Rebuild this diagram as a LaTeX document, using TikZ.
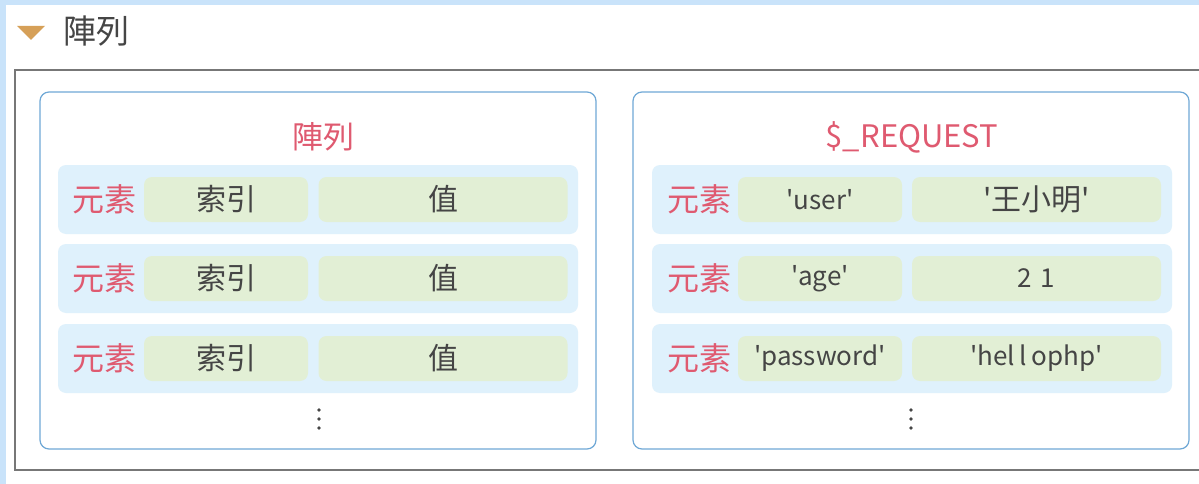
\documentclass[tikz,border=0pt]{standalone}
\usepackage{fontspec}
\setmainfont{Noto Sans CJK TC}
\definecolor{bgblue}{HTML}{C9E3FA}
\definecolor{rowc}{HTML}{DFF1FC}
\definecolor{cellc}{HTML}{E2EFD5}
\definecolor{boxc}{HTML}{6FA8D6}
\definecolor{redt}{HTML}{DF5A70}
\definecolor{darkt}{HTML}{454545}
\definecolor{tri}{HTML}{D6A058}
\definecolor{outerc}{HTML}{777777}
\newcommand\mysq{\textquotesingle}
\begin{document}
\begin{tikzpicture}[x=1pt,y=-1pt,
  rowbox/.style={fill=rowc,draw=none,rounded corners=8pt,minimum width=520pt,minimum height=69pt,inner sep=0pt},
  cellbox/.style={fill=cellc,draw=none,rounded corners=8pt,minimum height=45pt,inner sep=0pt,text=darkt,font=\fontsize{30}{30}\selectfont},
  latcell/.style={font=\fontsize{26}{26}\selectfont},
  idxbox/.style={cellbox,minimum width=164pt},
  valbox/.style={cellbox,minimum width=249pt},
  elemlabel/.style={text=redt,inner sep=0pt,font=\fontsize{32}{32}\selectfont},
  bigbox/.style={draw=boxc,line width=1.2pt,rounded corners=9pt,minimum width=556pt,minimum height=357pt,inner sep=0pt},
  boxtitle/.style={text=redt,inner sep=0pt,font=\fontsize{31}{31}\selectfont},
  dotc/.style={fill=darkt,draw=none,circle,inner sep=0pt,minimum size=3.6pt}]
\useasboundingbox (0,0) rectangle (1199,484);
\clip (0,0) rectangle (1199,484);
% background panel
\fill[bgblue] (0,0) rectangle (1199,484);
\fill[white] (6,5) rectangle (1199,484);
% heading
\fill[tri] (17,26) -- (45,26) -- (31,40) -- cycle;
\node[text=darkt,inner sep=0pt,font=\fontsize{33}{33}\selectfont] (head) at (96,31) {陣列};
% outer frame
\draw[outerc,line width=1.5pt] (15,70) rectangle (1215,470);
% left box
\node[bigbox] (L) at (318,270.5) {};
\node[boxtitle] (Lt) at (323,137) {陣列};
\foreach \i/\y in {1/199.5,2/278.5,3/358.5}{
  \node[rowbox] (Lr\i) at (318,\y) {};
  \node[elemlabel] (Ll\i) at (104.5,\y) {元素};
  \node[idxbox] (Li\i) at (226,\y) {索引};
  \node[valbox] (Lv\i) at (443,\y) {值};
}
\node[dotc] (Ld1) at (319,410) {};
\node[dotc] (Ld2) at (319,419) {};
\node[dotc] (Ld3) at (319,428) {};
% right box
\node[bigbox] (R) at (911,270.5) {};
\node[boxtitle] (Rt) at (912,137) {\$\_REQUEST};
\foreach \i/\y in {1/199.5,2/278.5,3/358.5}{
  \node[rowbox] (Rr\i) at (912,\y) {};
  \node[elemlabel] (Rl\i) at (699.5,\y) {元素};
}
\node[idxbox,latcell] (Ri1) at (820,199.5) {\mysq user\mysq};
\node[valbox] (Rv1) at (1036.5,199.5) {\mysq 王小明\mysq};
\node[idxbox,latcell] (Ri2) at (820,278.5) {\mysq age\mysq};
\node[valbox,latcell] (Rv2) at (1036.5,278.5) {2\,\,1};
\node[idxbox,latcell] (Ri3) at (820,358.5) {\mysq password\mysq};
\node[valbox,latcell] (Rv3) at (1036.5,358.5) {\mysq hel\,l\,ophp\mysq};
\node[dotc] (Rd1) at (911,410) {};
\node[dotc] (Rd2) at (911,419) {};
\node[dotc] (Rd3) at (911,428) {};
\end{tikzpicture}
\end{document}
